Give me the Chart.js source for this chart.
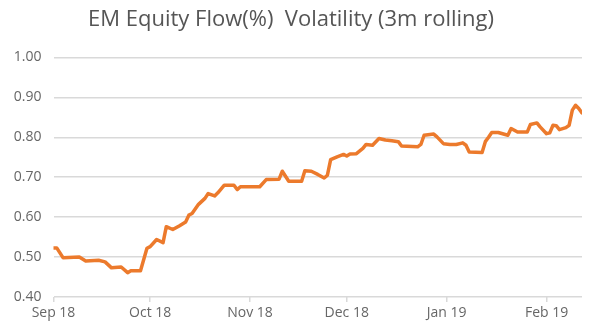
<!DOCTYPE html>
<html lang="en">
<head>
    <meta charset="UTF-8">
    <title>EM Equity Flow(%) Volatility (3m rolling)</title>
    <style>
        html, body { margin: 0; padding: 0; background: #fff; }
        .chart-box { width: 600px; height: 333px; position: relative; }
    </style>
</head>
<body>
    <div class="chart-box">
        <canvas id="volChart" width="600" height="333"></canvas>
    </div>

    <script src="https://cdn.jsdelivr.net/npm/chart.js@4.4.0/dist/chart.umd.min.js"></script>
    <script>
        // ----------------------
        // data
        // ----------------------
        const START_DATE = '2018-09-01';

        const dates = [
            '2018-09-01', '2018-09-02', '2018-09-04', '2018-09-09', '2018-09-11', '2018-09-15',
            '2018-09-17', '2018-09-19', '2018-09-22', '2018-09-24', '2018-09-25', '2018-09-28',
            '2018-09-30', '2018-10-01', '2018-10-03', '2018-10-05', '2018-10-06', '2018-10-08',
            '2018-10-10', '2018-10-12', '2018-10-13', '2018-10-14', '2018-10-16', '2018-10-18',
            '2018-10-19', '2018-10-21', '2018-10-22', '2018-10-24', '2018-10-27', '2018-10-28',
            '2018-10-29', '2018-11-04', '2018-11-06', '2018-11-10', '2018-11-11', '2018-11-13',
            '2018-11-17', '2018-11-18', '2018-11-20', '2018-11-22', '2018-11-24', '2018-11-25',
            '2018-11-26', '2018-11-28', '2018-11-30', '2018-12-01', '2018-12-02', '2018-12-04',
            '2018-12-06', '2018-12-07', '2018-12-09', '2018-12-11', '2018-12-13', '2018-12-15',
            '2018-12-17', '2018-12-18', '2018-12-23', '2018-12-24', '2018-12-25', '2018-12-28',
            '2018-12-29', '2018-12-31', '2019-01-02', '2019-01-04', '2019-01-06', '2019-01-07',
            '2019-01-08', '2019-01-12', '2019-01-13', '2019-01-14', '2019-01-15', '2019-01-17',
            '2019-01-20', '2019-01-21', '2019-01-23', '2019-01-26', '2019-01-27', '2019-01-29',
            '2019-01-30', '2019-02-01', '2019-02-02', '2019-02-03', '2019-02-04', '2019-02-05',
            '2019-02-07', '2019-02-08', '2019-02-09', '2019-02-10', '2019-02-11', '2019-02-12'
        ];

        const volatility = [
            0.523, 0.523, 0.498, 0.500, 0.490, 0.492,
            0.488, 0.473, 0.475, 0.461, 0.466, 0.466,
            0.522, 0.526, 0.544, 0.536, 0.576, 0.569,
            0.578, 0.588, 0.605, 0.609, 0.632, 0.647,
            0.659, 0.653, 0.661, 0.680, 0.680, 0.669,
            0.676, 0.676, 0.694, 0.695, 0.715, 0.690,
            0.690, 0.716, 0.715, 0.707, 0.698, 0.705,
            0.744, 0.751, 0.757, 0.753, 0.758, 0.759,
            0.772, 0.782, 0.780, 0.797, 0.793, 0.791,
            0.789, 0.778, 0.776, 0.782, 0.805, 0.808,
            0.801, 0.784, 0.782, 0.782, 0.786, 0.780,
            0.763, 0.762, 0.789, 0.800, 0.812, 0.812,
            0.805, 0.822, 0.813, 0.813, 0.832, 0.836,
            0.826, 0.809, 0.811, 0.830, 0.829, 0.819,
            0.824, 0.830, 0.868, 0.880, 0.872, 0.861
        ];

        const monthTickDates = ['2018-09-01', '2018-10-01', '2018-11-01', '2018-12-01', '2019-01-01', '2019-02-01'];
        const monthTickLabels = ['Sep 18', 'Oct 18', 'Nov 18', 'Dec 18', 'Jan 19', 'Feb 19'];

        const yTicks = [0.40, 0.50, 0.60, 0.70, 0.80, 0.90, 1.00];

        // days since START_DATE, so the x axis is a plain linear scale
        function dayIndex(d) {
            return Math.round((Date.parse(d) - Date.parse(START_DATE)) / 86400000);
        }

        const points = dates.map((d, i) => ({ x: dayIndex(d), y: volatility[i] }));
        const monthTickDays = monthTickDates.map(dayIndex);

        const GRID = '#d9d9d9';
        const TEXT = '#666666';

        new Chart(document.getElementById('volChart'), {
            type: 'line',
            data: {
                datasets: [{
                    label: 'EM Equity Flow(%) Volatility',
                    data: points,
                    borderColor: '#ec7a2c',
                    borderWidth: 3.5,
                    pointRadius: 0,
                    tension: 0,
                    borderJoinStyle: 'round',
                    borderCapStyle: 'round'
                }]
            },
            options: {
                responsive: false,
                animation: false,
                layout: { padding: { left: 0, right: 18, top: 0, bottom: 0 } },
                plugins: {
                    legend: { display: false },
                    tooltip: { enabled: false },
                    title: {
                        display: true,
                        text: 'EM Equity Flow(%)  Volatility (3m rolling)',
                        color: '#555555',
                        font: { family: 'Open Sans', size: 22, weight: 'normal', lineHeight: 1.2 },
                        padding: { top: 7, bottom: 24 }
                    }
                },
                scales: {
                    x: {
                        type: 'linear',
                        min: 0,
                        max: dayIndex(dates[dates.length - 1]),
                        afterBuildTicks: axis => { axis.ticks = monthTickDays.map(v => ({ value: v })); },
                        afterFit: axis => { axis.height = 36; },
                        border: { display: false },
                        grid: { drawOnChartArea: false, color: GRID, lineWidth: 1.5, tickLength: 5 },
                        ticks: {
                            autoSkip: false,
                            maxRotation: 0,
                            padding: 3,
                            color: TEXT,
                            font: { family: 'Open Sans', size: 14 },
                            callback: v => monthTickLabels[monthTickDays.indexOf(v)]
                        }
                    },
                    y: {
                        min: yTicks[0],
                        max: yTicks[yTicks.length - 1],
                        afterBuildTicks: axis => { axis.ticks = yTicks.map(v => ({ value: v })); },
                        afterFit: axis => { axis.width = 53.5; },
                        border: { display: false },
                        grid: { color: GRID, lineWidth: 1.5, drawTicks: false },
                        ticks: {
                            padding: 12,
                            color: TEXT,
                            font: { family: 'Open Sans', size: 14 },
                            callback: v => v.toFixed(2)
                        }
                    }
                }
            }
        });
    </script>
</body>
</html>
